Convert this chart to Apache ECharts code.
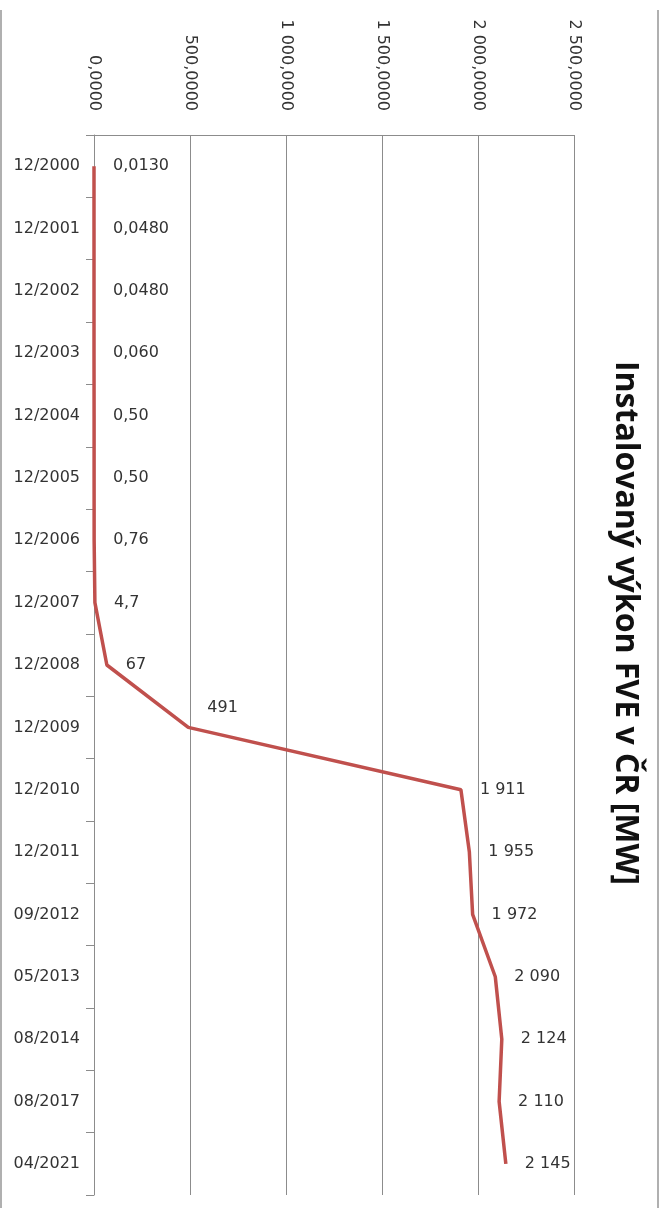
<!DOCTYPE html>
<html>
<head>
<meta charset="utf-8">
<script src="https://cdn.jsdelivr.net/npm/echarts@6/dist/echarts.min.js"></script>
<style>
  html, body { margin: 0; padding: 0; background: #fff; }
  #chart { width: 670px; height: 1208px; }
</style>
</head>
<body>
<div id="chart"></div>
<script>
// období (kategorie) a instalovaný výkon v MW
const periods = ['12/2000', '12/2001', '12/2002', '12/2003', '12/2004', '12/2005', '12/2006', '12/2007',
  '12/2008', '12/2009', '12/2010', '12/2011', '09/2012', '05/2013', '08/2014', '08/2017', '04/2021'];
const power = [0.013, 0.048, 0.048, 0.06, 0.5, 0.5, 0.76, 4.7, 67, 491, 1911, 1955, 1972, 2090, 2124, 2110, 2145];
const powerLabels = ['0,0130', '0,0480', '0,0480', '0,060', '0,50', '0,50', '0,76', '4,7', '67', '491',
  '1 911', '1 955', '1 972', '2 090', '2 124', '2 110', '2 145'];
const axisTicks = [0, 500, 1000, 1500, 2000, 2500];
const titleText = 'Instalovaný výkon FVE v ČR [MW]';

const chart = echarts.init(document.getElementById('chart'));

// formát osy: 2 500,0000
function fmtAxis(v) {
  const s = String(Math.round(v)).replace(/\B(?=(\d{3})+(?!\d))/g, ' ');
  return s + ',0000';
}

const font = 'DejaVu Sans';
const gridColor = '#8c8c8c';

const option = {
  backgroundColor: '#fff',
  animation: false,
  grid: { left: 94, right: 96, top: 135, bottom: 13 },
  xAxis: {
    type: 'value',
    position: 'top',
    min: axisTicks[0],
    max: axisTicks[axisTicks.length - 1],
    interval: 500,
    axisLine: { show: true, lineStyle: { color: gridColor, width: 1 } },
    axisTick: { show: false },
    splitLine: { show: true, lineStyle: { color: gridColor, width: 1 } },
    axisLabel: {
      rotate: 90,
      margin: 24,
      formatter: fmtAxis,
      fontFamily: font,
      fontSize: 16,
      color: '#333'
    }
  },
  yAxis: {
    type: 'category',
    inverse: true,
    data: periods,
    boundaryGap: true,
    axisLine: { show: true, lineStyle: { color: gridColor, width: 1 } },
    axisTick: { show: true, length: 8, lineStyle: { color: gridColor } },
    splitLine: { show: false },
    axisLabel: {
      margin: 14,
      fontFamily: font,
      fontSize: 16,
      color: '#333'
    }
  },
  series: [{
    type: 'line',
    // popisek 491 je posunutý nahoru
    data: power.map((v, i) => i === 9
      ? { value: v, label: { offset: [0, -20] } }
      : v),
    symbol: 'circle',
    symbolSize: 0,
    showSymbol: true,
    itemStyle: { color: '#c0504d' },
    lineStyle: { color: '#c0504d', width: 3.5 },
    label: {
      show: true,
      position: 'right',
      distance: 19,
      formatter: p => powerLabels[p.dataIndex],
      fontFamily: font,
      fontSize: 16,
      color: '#333'
    }
  }],
  graphic: [
    {
      type: 'text',
      x: 625,
      y: 623,
      rotation: -Math.PI / 2,
      style: {
        text: titleText,
        font: 'bold 32px "Open Sans"',
        fill: '#111',
        align: 'center',
        verticalAlign: 'middle'
      }
    },
    { type: 'line', shape: { x1: 1, y1: 10, x2: 1, y2: 1208 }, style: { stroke: '#b0b0b0', lineWidth: 2 } },
    { type: 'line', shape: { x1: 658, y1: 10, x2: 658, y2: 1208 }, style: { stroke: '#b0b0b0', lineWidth: 2 } }
  ]
};

chart.setOption(option);
</script>
</body>
</html>
